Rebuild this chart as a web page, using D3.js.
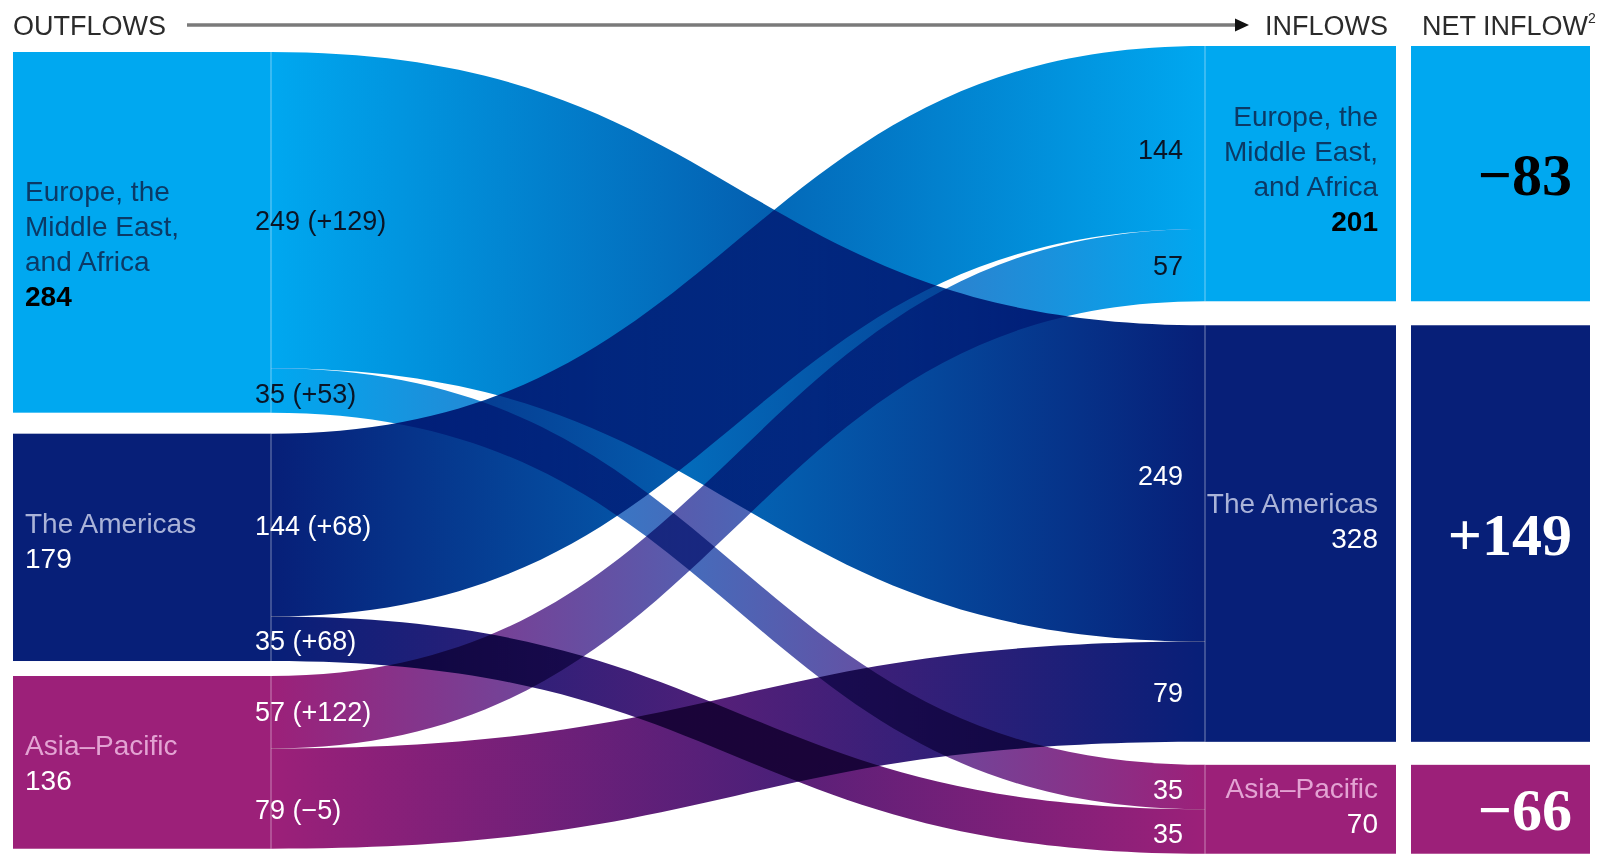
<!DOCTYPE html>
<html><head><meta charset="utf-8">
<script src="https://cdn.jsdelivr.net/npm/d3@7"></script>
<style>html,body{margin:0;padding:0;background:#fff;} svg{display:block;}</style>
</head><body><svg id="chart" width="1600" height="858"></svg>
<script>
// ---------- data ----------
const regions = ["EMEA", "Americas", "APAC"];
const regionLabels = [["Europe, the", "Middle East,", "and Africa"], ["The Americas"], ["Asia–Pacific"]];
const regionColors = ["#00a8f0", "#071f78", "#9c2079"];
const outflowTotals = [284, 179, 136];
const inflowTotals = [201, 328, 70];
const netInflow = [-83, 149, -66];
const flowSource = [0, 0, 1, 1, 2, 2];
const flowTarget = [1, 2, 0, 2, 0, 1];
const flowValues = [249, 35, 144, 35, 57, 79];
const flowChanges = ["+129", "+53", "+68", "+68", "+122", "−5"];
const headers = ["OUTFLOWS", "INFLOWS", "NET INFLOW"];

// ---------- styles per region ----------
const nameColor = ["#0b3a66", "#aab3d8", "#e3a3d3"];
const numColor = ["#000000", "#ffffff", "#ffffff"];
const numWeight = ["bold", "normal", "normal"];
const flowLabelColor = ["#0a1526", "#ffffff", "#ffffff"];

// ---------- layout ----------
const W = 1600, H = 858;
const svg = d3.select("#chart");
svg.append("rect").attr("width", W).attr("height", H).attr("fill", "#fff");
const k = d3.scaleLinear().domain([0, 100]).range([0, 127]);
const leftX0 = 13, leftX1 = 271, rightX0 = 1205, rightX1 = 1396, netX0 = 1411, netX1 = 1590;
const leftTop = 52, leftGaps = [21, 15], rightTop = 46, rightGaps = [24, 23];
// label nudges (layout only)
const leftLabelAdj = [21, 3, 10], rightLabelAdj = [5, -3, 6];
const srcLabelAdj = [20, 13, 10, 11, 9, 20], tgtLabelAdj = [2, 12, 22, 11, 10, 10];
const SANS = "'Liberation Sans', Arial, sans-serif";
const SERIF = "'Liberation Serif', 'Times New Roman', serif";

function stack(totals, top, gaps) {
  const out = []; let y = top;
  totals.forEach((v, i) => { out.push({y0: y, y1: y + k(v)}); y += k(v) + (gaps[i] || 0); });
  return out;
}
const leftNodes = stack(outflowTotals, leftTop, leftGaps);
const rightNodes = stack(inflowTotals, rightTop, rightGaps);

// flows positions
const flows = flowValues.map((v, i) => ({i, s: flowSource[i], t: flowTarget[i], v, ch: flowChanges[i]}));
const srcOff = leftNodes.map(n => n.y0);
flows.forEach(f => { f.sy0 = srcOff[f.s]; f.sy1 = f.sy0 + k(f.v); srcOff[f.s] = f.sy1; });
const tgtOff = rightNodes.map(n => n.y0);
[0, 1, 2].forEach(t => {
  flows.filter(f => f.t === t).sort((a, b) => a.s - b.s).forEach(f => {
    f.ty0 = tgtOff[t]; f.ty1 = f.ty0 + k(f.v); tgtOff[t] = f.ty1;
  });
});

// gradients
const defs = svg.append("defs");
flows.forEach((f, i) => {
  const g = defs.append("linearGradient").attr("id", "g" + i)
    .attr("gradientUnits", "userSpaceOnUse")
    .attr("x1", leftX1).attr("x2", rightX0).attr("y1", 0).attr("y2", 0);
  g.append("stop").attr("offset", 0).attr("stop-color", regionColors[f.s]);
  g.append("stop").attr("offset", 1).attr("stop-color", regionColors[f.t]);
});

function band(f) {
  const x0 = leftX1, x1 = rightX0, xm = (x0 + x1) / 2;
  return `M${x0},${f.sy0}C${xm},${f.sy0} ${xm},${f.ty0} ${x1},${f.ty0}` +
         `L${x1},${f.ty1}C${xm},${f.ty1} ${xm},${f.sy1} ${x0},${f.sy1}Z`;
}

// flows (multiply blending)
svg.append("g").selectAll("path").data(flows).join("path")
  .attr("d", band)
  .attr("fill", (d, i) => `url(#g${i})`)
  .style("mix-blend-mode", "multiply");

// left nodes
svg.append("g").selectAll("rect").data(leftNodes).join("rect")
  .attr("x", leftX0).attr("width", leftX1 - leftX0)
  .attr("y", d => d.y0).attr("height", d => d.y1 - d.y0)
  .attr("fill", (d, i) => regionColors[i]);
// right nodes
svg.append("g").selectAll("rect").data(rightNodes).join("rect")
  .attr("x", rightX0).attr("width", rightX1 - rightX0)
  .attr("y", d => d.y0).attr("height", d => d.y1 - d.y0)
  .attr("fill", (d, i) => regionColors[i]);
// net inflow boxes
svg.append("g").selectAll("rect").data(rightNodes).join("rect")
  .attr("x", netX0).attr("width", netX1 - netX0)
  .attr("y", d => d.y0).attr("height", d => d.y1 - d.y0)
  .attr("fill", (d, i) => regionColors[i]);

// seam lines
const seams = svg.append("g").attr("stroke", "#fff").attr("stroke-opacity", 0.3).attr("stroke-width", 1.5);
leftNodes.forEach(n => seams.append("line").attr("x1", leftX1).attr("x2", leftX1).attr("y1", n.y0).attr("y2", n.y1));
rightNodes.forEach(n => seams.append("line").attr("x1", rightX0).attr("x2", rightX0).attr("y1", n.y0).attr("y2", n.y1));

// flow labels (left)
svg.append("g").selectAll("text").data(flows).join("text")
  .attr("x", 255).attr("y", d => (d.sy0 + d.sy1) / 2 + srcLabelAdj[d.i])
  .attr("font-family", SANS).attr("font-size", 27)
  .attr("fill", d => flowLabelColor[d.s])
  .text(d => `${d.v} (${d.ch})`);
// flow labels (right)
svg.append("g").selectAll("text").data(flows).join("text")
  .attr("x", 1183).attr("y", d => (d.ty0 + d.ty1) / 2 + tgtLabelAdj[d.i])
  .attr("text-anchor", "end")
  .attr("font-family", SANS).attr("font-size", 27)
  .attr("fill", d => flowLabelColor[d.t])
  .text(d => d.v);

// node labels
const LH = 35;
function nodeLabel(nodes, totals, x, anchor, adj) {
  nodes.forEach((n, i) => {
    const lines = regionLabels[i].concat([String(totals[i])]);
    const cy = (n.y0 + n.y1) / 2;
    const first = cy - (lines.length - 1) * LH / 2 + adj[i];
    const t = svg.append("text").attr("font-family", SANS).attr("font-size", 28)
      .attr("text-anchor", anchor);
    lines.forEach((ln, j) => {
      const last = j === lines.length - 1;
      t.append("tspan").attr("x", x).attr("y", first + j * LH)
        .attr("fill", last ? numColor[i] : nameColor[i])
        .attr("font-weight", last ? numWeight[i] : "normal")
        .text(ln);
    });
  });
}
nodeLabel(leftNodes, outflowTotals, 25, "start", leftLabelAdj);
nodeLabel(rightNodes, inflowTotals, 1378, "end", rightLabelAdj);

// net inflow values
const fmt = v => (v > 0 ? "+" : "−") + Math.abs(v);
svg.append("g").selectAll("text").data(rightNodes).join("text")
  .attr("x", 1572).attr("y", d => (d.y0 + d.y1) / 2 + 21)
  .attr("text-anchor", "end")
  .attr("font-family", SERIF).attr("font-size", 60).attr("font-weight", "bold")
  .attr("fill", (d, i) => i === 0 ? "#000" : "#fff")
  .text((d, i) => fmt(netInflow[i]));

// headers
const hdr = svg.append("g").attr("font-family", SANS).attr("font-size", 27).attr("fill", "#2b2b2b");
hdr.append("text").attr("x", 13).attr("y", 35).text(headers[0]);
hdr.append("text").attr("x", 1265).attr("y", 35).text(headers[1]);
const net = hdr.append("text").attr("x", 1422).attr("y", 35).text(headers[2]);
net.append("tspan").attr("font-size", 14).attr("dy", -12).text("2");
// arrow
svg.append("line").attr("x1", 187).attr("x2", 1238).attr("y1", 25).attr("y2", 25)
  .attr("stroke", "#7a7a7a").attr("stroke-width", 3.5);
svg.append("path").attr("d", "M1235,18.5L1249,25L1235,31.5Z").attr("fill", "#111");
</script></body></html>
